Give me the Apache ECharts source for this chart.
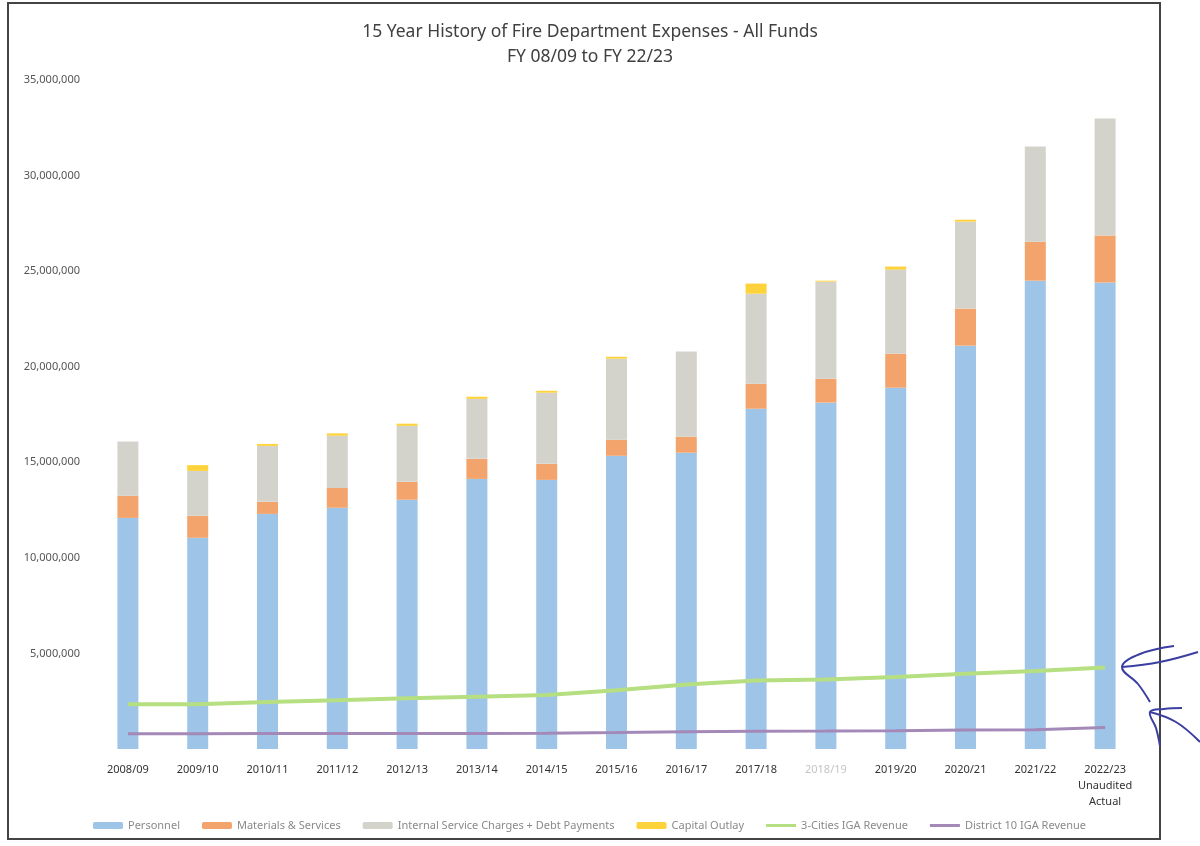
<!DOCTYPE html>
<html>
<head>
<meta charset="utf-8">
<title>Fire Department Expenses</title>
<script src="https://cdn.jsdelivr.net/npm/echarts@6/dist/echarts.min.js"></script>
<style>
  html, body { margin: 0; padding: 0; background: #fff; }
  #chart { width: 1200px; height: 846px; }
</style>
</head>
<body>
<div id="chart"></div>
<script>
// fiscal years
var years = ['2008/09', '2009/10', '2010/11', '2011/12', '2012/13', '2013/14', '2014/15', '2015/16',
  '2016/17', '2017/18', '2018/19', '2019/20', '2020/21', '2021/22', '2022/23\nUnaudited\nActual'];

// stacked expense parts (dollars)
var personnel = [12090000, 11050000, 12300000, 12620000, 13040000, 14130000, 14080000, 15340000,
  15500000, 17800000, 18120000, 18900000, 21100000, 24500000, 24400000];
var materials = [1160000, 1150000, 630000, 1040000, 940000, 1050000, 840000, 840000,
  840000, 1310000, 1250000, 1780000, 1940000, 2040000, 2460000];
var internalCharges = [2840000, 2350000, 2930000, 2730000, 2930000, 3140000, 3720000, 4240000,
  4450000, 4710000, 5080000, 4400000, 4550000, 4980000, 6120000];
var capitalOutlay = [0, 300000, 100000, 120000, 110000, 110000, 100000, 100000,
  0, 530000, 50000, 160000, 100000, 0, 0];

// revenue lines (dollars)
var citiesIGA = [2340000, 2340000, 2460000, 2550000, 2650000, 2740000, 2830000, 3070000,
  3380000, 3590000, 3640000, 3770000, 3940000, 4080000, 4260000];
var district10IGA = [800000, 800000, 810000, 810000, 810000, 810000, 830000, 860000,
  900000, 930000, 940000, 960000, 990000, 1010000, 1120000];

var font = "'Noto Sans', 'Liberation Sans', sans-serif";
var lineIcon = 'path://M0,0 L30,0 L30,3 L0,3 Z';

var chart = echarts.init(document.getElementById('chart'));

// the 2018/19 label is faded on the original
var xData = years.map(function (y) {
  if (y === '2018/19') return { value: y, textStyle: { color: '#c4c4c4' } };
  return y;
});

function barSeries(name, data, color) {
  return {
    name: name,
    type: 'bar',
    stack: 'exp',
    barWidth: 21,
    itemStyle: { color: color },
    data: data
  };
}

var option = {
  backgroundColor: '#fff',
  textStyle: { fontFamily: font },
  title: {
    text: '15 Year History of Fire Department Expenses - All Funds\nFY 08/09 to FY 22/23',
    left: 585,
    top: 15,
    textAlign: 'center',
    textStyle: {
      fontFamily: font,
      fontSize: 17.5,
      fontWeight: 'normal',
      color: '#404040',
      lineHeight: 25
    }
  },
  legend: {
    bottom: 10,
    left: 88,
    itemWidth: 30,
    itemHeight: 7,
    itemGap: 22,
    textStyle: { color: '#8a8a8a', fontSize: 11, fontFamily: font },
    data: [
      'Personnel',
      'Materials & Services',
      'Internal Service Charges + Debt Payments',
      'Capital Outlay',
      { name: '3-Cities IGA Revenue', icon: lineIcon },
      { name: 'District 10 IGA Revenue', icon: lineIcon }
    ]
  },
  grid: { left: 93, right: 60, top: 80, bottom: 97 },
  xAxis: {
    type: 'category',
    data: xData,
    axisLine: { show: false },
    axisTick: { show: false },
    axisLabel: { color: '#333', fontSize: 11, margin: 13, lineHeight: 16, interval: 0 }
  },
  yAxis: {
    type: 'value',
    min: 0,
    max: 35000000,
    interval: 5000000,
    splitLine: { show: false },
    axisLine: { show: false },
    axisTick: { show: false },
    axisLabel: {
      showMinLabel: false,
      color: '#555',
      fontSize: 11,
      margin: 13,
      formatter: function (v) { return v.toLocaleString('en-US'); }
    }
  },
  series: [
    barSeries('Personnel', personnel, '#9ec5e8'),
    barSeries('Materials & Services', materials, '#f2a46c'),
    barSeries('Internal Service Charges + Debt Payments', internalCharges, '#d3d3cc'),
    barSeries('Capital Outlay', capitalOutlay, '#fdd23a'),
    {
      name: '3-Cities IGA Revenue',
      type: 'line',
      symbol: 'none',
      lineStyle: { color: '#b5df80', width: 4 },
      itemStyle: { color: '#b5df80' },
      data: citiesIGA
    },
    {
      name: 'District 10 IGA Revenue',
      type: 'line',
      symbol: 'none',
      lineStyle: { color: '#a388b8', width: 3 },
      itemStyle: { color: '#a388b8' },
      data: district10IGA
    }
  ],
  graphic: [
    // page frame of the scan
    {
      type: 'rect',
      shape: { x: 8, y: 3, width: 1152, height: 836 },
      style: { fill: 'none', stroke: '#444', lineWidth: 2 },
      silent: true
    },
    // hand drawn arrows
    {
      type: 'polyline',
      shape: { points: [[1174, 646], [1140, 654], [1122, 667], [1138, 684], [1150, 702]], smooth: 0.4 },
      style: { fill: 'none', stroke: '#3b3fa0', lineWidth: 2 },
      silent: true
    },
    {
      type: 'polyline',
      shape: { points: [[1122, 667], [1160, 662], [1198, 652]], smooth: 0.4 },
      style: { fill: 'none', stroke: '#3b3fa0', lineWidth: 2 },
      silent: true
    },
    {
      type: 'polyline',
      shape: { points: [[1182, 708], [1164, 709], [1150, 712], [1156, 728], [1160, 746]], smooth: 0.4 },
      style: { fill: 'none', stroke: '#3b3fa0', lineWidth: 2 },
      silent: true
    },
    {
      type: 'polyline',
      shape: { points: [[1150, 712], [1176, 722], [1200, 742]], smooth: 0.4 },
      style: { fill: 'none', stroke: '#3b3fa0', lineWidth: 2 },
      silent: true
    }
  ]
};

chart.setOption(option);
</script>
</body>
</html>
